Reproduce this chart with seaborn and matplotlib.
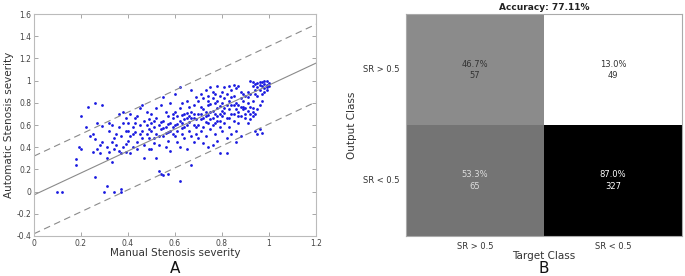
import numpy as np
import pandas as pd
import seaborn as sns
import matplotlib.pyplot as plt

# ---- data ----
manual = [
    0.10, 0.12, 0.18, 0.18, 0.20, 0.20, 0.19,
    0.23, 0.26, 0.29, 0.25, 0.26, 0.26, 0.27, 0.28, 0.27, 0.22, 0.24, 0.29, 0.29, 0.30, 0.28, 0.25,
    0.31, 0.31, 0.32, 0.33, 0.34, 0.37, 0.37, 0.32, 0.33, 0.35, 0.36, 0.37, 0.38, 0.39, 0.34, 0.35,
    0.36, 0.38, 0.39, 0.33, 0.31, 0.37, 0.36, 0.39, 0.38, 0.32, 0.34, 0.39,
    0.40, 0.41, 0.42, 0.43, 0.44, 0.45, 0.46, 0.47, 0.48, 0.49, 0.41, 0.43, 0.45, 0.46, 0.48, 0.42,
    0.44, 0.47, 0.49, 0.40, 0.43, 0.45, 0.47, 0.48, 0.41, 0.46, 0.44, 0.49, 0.42, 0.40, 0.49,
    0.50, 0.51, 0.52, 0.53, 0.54, 0.55, 0.57, 0.50, 0.51, 0.52, 0.53, 0.54, 0.55, 0.56, 0.57, 0.58,
    0.59, 0.50, 0.52, 0.54, 0.56, 0.58, 0.59, 0.51, 0.53, 0.55, 0.57, 0.59, 0.52, 0.54, 0.56, 0.58,
    0.55, 0.57, 0.53, 0.58, 0.50, 0.56, 0.59, 0.51, 0.55, 0.57,
    0.60, 0.61, 0.62, 0.62, 0.63, 0.64, 0.65, 0.66, 0.67, 0.68, 0.69, 0.60, 0.61, 0.62, 0.63, 0.64,
    0.65, 0.66, 0.67, 0.68, 0.69, 0.60, 0.61, 0.63, 0.64, 0.66, 0.67, 0.68, 0.69, 0.62, 0.65, 0.66,
    0.67, 0.61, 0.63, 0.64, 0.68, 0.69, 0.62, 0.65, 0.60, 0.67, 0.65, 0.68, 0.63,
    0.70, 0.71, 0.72, 0.73, 0.74, 0.75, 0.76, 0.77, 0.78, 0.79, 0.70, 0.71, 0.72, 0.73, 0.74, 0.75,
    0.76, 0.77, 0.78, 0.79, 0.70, 0.71, 0.72, 0.73, 0.74, 0.75, 0.76, 0.77, 0.78, 0.79, 0.70, 0.72,
    0.74, 0.76, 0.78, 0.71, 0.73, 0.75, 0.77, 0.79, 0.72, 0.74, 0.76, 0.78, 0.73, 0.75, 0.77, 0.79,
    0.71, 0.74, 0.76, 0.78,
    0.80, 0.81, 0.82, 0.79, 0.83, 0.84, 0.85, 0.86, 0.87, 0.88, 0.89, 0.80, 0.81, 0.82, 0.83, 0.84,
    0.85, 0.86, 0.87, 0.88, 0.89, 0.80, 0.81, 0.82, 0.83, 0.84, 0.85, 0.86, 0.87, 0.88, 0.89, 0.80,
    0.82, 0.84, 0.86, 0.88, 0.81, 0.83, 0.85, 0.87, 0.89, 0.82, 0.84, 0.86, 0.88, 0.80, 0.85, 0.87,
    0.83, 0.81,
    0.90, 0.91, 0.92, 0.93, 0.94, 0.95, 0.96, 0.97, 0.98, 0.99, 0.92, 0.93, 0.94, 0.95, 0.96, 0.97,
    0.98, 0.99, 1.00, 0.91, 0.92, 0.93, 0.94, 0.95, 0.96, 0.97, 0.98, 0.99, 0.90, 0.91, 0.92, 0.93,
    0.94, 0.96, 0.97, 0.95, 0.90, 0.91, 0.93, 0.95, 0.97, 0.99, 1.00, 0.96, 0.98, 0.94, 0.92, 0.93,
    0.91, 0.90,
]
automatic = [
    0.00, 0.00, 0.29, 0.24, 0.68, 0.38, 0.40,
    0.76, 0.80, 0.78, 0.52, 0.47, 0.13, 0.38, 0.35, 0.62, 0.58, 0.50, 0.45, 0.59, 0.00, 0.42, 0.36,
    0.05, 0.40, 0.36, 0.27, 0.00, 0.02, 0.00, 0.55, 0.60, 0.42, 0.37, 0.35, 0.40, 0.43, 0.48, 0.52,
    0.58, 0.62, 0.55, 0.45, 0.30, 0.50, 0.70, 0.66, 0.72, 0.62, 0.38, 0.36,
    0.55, 0.50, 0.58, 0.62, 0.45, 0.52, 0.55, 0.30, 0.60, 0.48, 0.70, 0.66, 0.75, 0.78, 0.72, 0.40,
    0.38, 0.42, 0.56, 0.46, 0.54, 0.60, 0.64, 0.52, 0.35, 0.48, 0.68, 0.65, 0.52, 0.62, 0.38,
    0.55, 0.58, 0.30, 0.19, 0.16, 0.15, 0.16, 0.62, 0.48, 0.52, 0.60, 0.56, 0.64, 0.58, 0.61, 0.55,
    0.66, 0.70, 0.75, 0.78, 0.72, 0.80, 0.70, 0.44, 0.42, 0.50, 0.46, 0.52, 0.66, 0.63, 0.53, 0.62,
    0.85, 0.68, 0.50, 0.37, 0.38, 0.40, 0.58, 0.64, 0.57, 0.54,
    0.60, 0.55, 0.94, 0.10, 0.62, 0.58, 0.66, 0.63, 0.24, 0.70, 0.65, 0.72, 0.68, 0.75, 0.80, 0.70,
    0.82, 0.76, 0.72, 0.60, 0.58, 0.50, 0.45, 0.52, 0.48, 0.55, 0.50, 0.45, 0.52, 0.64, 0.60, 0.68,
    0.66, 0.61, 0.57, 0.65, 0.78, 0.85, 0.40, 0.38, 0.88, 0.92, 0.71, 0.66, 0.69,
    0.70, 0.65, 0.74, 0.68, 0.78, 0.72, 0.66, 0.80, 0.75, 0.70, 0.60, 0.55, 0.58, 0.50, 0.62, 0.56,
    0.60, 0.52, 0.64, 0.58, 0.82, 0.88, 0.84, 0.92, 0.86, 0.94, 0.90, 0.88, 0.95, 0.86, 0.48, 0.44,
    0.40, 0.42, 0.46, 0.76, 0.72, 0.79, 0.70, 0.77, 0.66, 0.69, 0.73, 0.68, 0.63, 0.65, 0.62, 0.64,
    0.70, 0.82, 0.84, 0.82,
    0.80, 0.75, 0.35, 0.35, 0.82, 0.78, 0.86, 0.80, 0.72, 0.90, 0.76, 0.68, 0.62, 0.66, 0.58, 0.70,
    0.64, 0.55, 0.62, 0.68, 0.74, 0.90, 0.94, 0.88, 0.95, 0.92, 0.96, 0.93, 0.95, 0.84, 0.88, 0.55,
    0.48, 0.52, 0.45, 0.50, 0.84, 0.74, 0.70, 0.78, 0.82, 0.78, 0.85, 0.74, 0.76, 0.73, 0.78, 0.68,
    0.66, 0.71,
    0.86, 0.90, 0.88, 0.95, 0.92, 0.98, 0.96, 0.99, 0.97, 1.00, 1.00, 0.99, 0.97, 0.94, 0.99, 0.95,
    0.93, 0.96, 0.98, 0.80, 0.76, 0.72, 0.70, 0.74, 0.78, 0.82, 0.90, 0.92, 0.66, 0.62, 0.65, 0.68,
    0.55, 0.56, 0.53, 0.52, 0.75, 0.85, 0.82, 0.86, 0.88, 0.94, 0.95, 0.92, 1.00, 0.88, 0.70, 0.75,
    0.73, 0.70,
]

# fitted line and +/- limits
fit_slope = 0.99
fit_intercept = -0.03
limit_offset = 0.35

# confusion matrix
classes = ['SR > 0.5', 'SR < 0.5']
counts = [[57, 49], [65, 327]]
percents = [[46.7, 13.0], [53.3, 87.0]]
accuracy = 77.11

df = pd.DataFrame({'manual': manual, 'automatic': automatic})

sns.set_style('white')
plt.rcParams['font.family'] = ['DejaVu Sans']

fig = plt.figure(figsize=(6.85, 2.76), dpi=100)
ax1 = fig.add_axes([0.0496, 0.145, 0.4117, 0.804])
ax2 = fig.add_axes([0.593, 0.145, 0.4026, 0.804])

# ---- panel A ----
line_x = np.array([0, 1.2])
fit_y = fit_slope * line_x + fit_intercept
ax1.plot(line_x, fit_y, color='#8a8a8a', lw=0.8)
ax1.plot(line_x, fit_y + limit_offset, color='#8a8a8a', lw=0.8, ls=(0, (6, 4)))
ax1.plot(line_x, fit_y - limit_offset, color='#8a8a8a', lw=0.8, ls=(0, (6, 4)))

sns.scatterplot(data=df, x='manual', y='automatic', ax=ax1, color='#1a1ae0',
                s=4, linewidth=0, marker='o')

ax1.set_xlim(0, 1.2)
ax1.set_ylim(-0.4, 1.6)
xt = [0, 0.2, 0.4, 0.6, 0.8, 1, 1.2]
yt = [-0.4, -0.2, 0, 0.2, 0.4, 0.6, 0.8, 1, 1.2, 1.4, 1.6]
ax1.set_xticks(xt)
ax1.set_xticklabels([f'{v:g}' for v in xt])
ax1.set_yticks(yt)
ax1.set_yticklabels([f'{v:g}' for v in yt])
ax1.tick_params(direction='in', length=3, width=0.6, color='#999999',
                labelsize=5.5, labelcolor='#444444', top=True, right=True,
                bottom=True, left=True, pad=2)
for sp in ax1.spines.values():
    sp.set_color('#bbbbbb')
    sp.set_linewidth(0.8)
ax1.set_xlabel('Manual Stenosis severity', fontsize=7.5, color='#333333', labelpad=0)
ax1.set_ylabel('Automatic Stenosis severity', fontsize=7.5, color='#333333', labelpad=2)

# ---- panel B ----
annot = [[f'{percents[i][j]:.1f}%\n{counts[i][j]}' for j in range(2)] for i in range(2)]
cm = pd.DataFrame(percents, index=classes, columns=classes)
sns.heatmap(cm, ax=ax2, cmap='gray_r', vmin=13.0, vmax=87.0, cbar=False,
            annot=annot, fmt='', annot_kws={'fontsize': 6})
text_colors = ['#333333', '#333333', '#dddddd', '#ffffff']
for t, c in zip(ax2.texts, text_colors):
    t.set_color(c)
    t.set_linespacing(1.3)
ax2.tick_params(axis='y', length=0, labelsize=6, labelcolor='#333333', pad=5)
ax2.tick_params(axis='x', length=0, labelsize=6, labelcolor='#333333', pad=4)
ax2.set_yticklabels(classes, rotation=0)
ax2.set_xticklabels(classes, rotation=0)
for sp in ax2.spines.values():
    sp.set_visible(True)
    sp.set_color('#aaaaaa')
    sp.set_linewidth(0.8)
ax2.set_title(f'Accuracy: {accuracy:.2f}%', fontsize=6.5, fontweight='bold',
              color='#222222', pad=3)
ax2.set_xlabel('Target Class', fontsize=7.5, color='#333333', labelpad=0)
ax2.set_ylabel('Output Class', fontsize=7.5, color='#333333', labelpad=4)

fig.text(0.255, 0.0, 'A', fontsize=11, ha='center', va='bottom', color='#111111')
fig.text(0.794, 0.0, 'B', fontsize=11, ha='center', va='bottom', color='#111111')

fig.savefig('out.png', dpi=100)
